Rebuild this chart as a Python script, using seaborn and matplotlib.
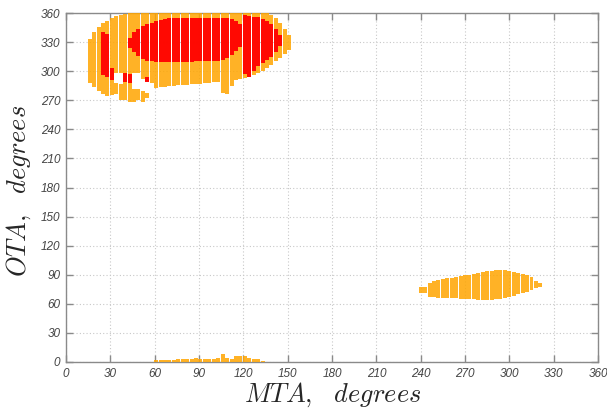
import numpy as np
import matplotlib
matplotlib.use("Agg")
import matplotlib.pyplot as plt
import seaborn as sns

# ---- data (MTA column centre, OTA low / high) ----
ORANGE_X = [16, 19, 22, 25, 28, 31, 34, 34, 37, 37, 40, 43, 46, 46, 49, 49, 52, 52, 55, 55,
            58, 61, 64, 67, 70, 73, 76, 79, 82, 85, 88, 91, 94, 97, 100, 103, 106, 109,
            112, 115, 118, 121, 124, 127, 130, 133, 136, 139, 142, 145, 148, 151]
ORANGE_LO = [288, 284, 280, 276, 274, 275, 298, 276, 298, 270, 270, 268, 298, 268, 298, 270,
             292, 268, 290, 272, 288, 283, 284, 284, 285, 285, 286, 286, 286, 287, 287, 287,
             288, 288, 289, 289, 277, 276, 285, 291, 292, 293, 294, 296, 298, 300, 303, 306,
             310, 314, 318, 322]
ORANGE_HI = [333, 340, 346, 350, 352, 355, 357, 288, 358, 287, 359, 360, 360, 282, 360, 282,
             360, 280, 360, 277, 360, 360, 360, 360, 360, 360, 360, 360, 360, 360, 360, 360,
             360, 360, 360, 360, 360, 360, 360, 360, 360, 360, 360, 360, 360, 360, 360, 358,
             355, 350, 344, 337]

RED_X = [25, 28, 31, 40, 43, 43, 46, 49, 52, 55, 55, 58, 61, 64, 67, 70, 73, 76, 79, 82, 85,
         88, 91, 94, 97, 100, 103, 106, 109, 112, 115, 118, 121, 124, 127, 130, 133, 136,
         139, 142, 145]
RED_LO = [296, 294, 291, 289, 288, 324, 320, 316, 313, 311, 289, 310, 309, 309, 309, 309, 309,
          309, 309, 309, 309, 310, 310, 310, 310, 311, 311, 312, 314, 317, 321, 325, 297, 294,
          300, 305, 308, 312, 315, 320, 326]
RED_HI = [340, 338, 303, 298, 297, 334, 340, 344, 347, 349, 294, 350, 352, 353, 354, 355, 355,
          355, 355, 355, 355, 355, 355, 355, 355, 355, 355, 355, 355, 354, 352, 349, 358, 357,
          356, 356, 354, 352, 349, 344, 337]

RIGHT_X = [240, 243, 246, 249, 252, 255, 258, 261, 264, 267, 270, 273, 276, 279, 282, 285,
           288, 291, 294, 297, 300, 303, 306, 309, 312, 315, 318, 321]
RIGHT_LO = [71, 71, 67, 67, 66, 66, 66, 66, 66, 65, 65, 65, 65, 64, 64, 64, 64, 65, 65, 66,
            67, 68, 70, 71, 72, 74, 76, 77]
RIGHT_HI = [77, 77, 82, 84, 85, 86, 87, 87, 88, 89, 90, 90, 91, 92, 93, 94, 94, 95, 95, 95,
            94, 93, 92, 91, 90, 88, 84, 81]

BOTTOM_X = [61, 64, 67, 70, 73, 76, 79, 82, 85, 88, 91, 94, 97, 100, 103, 106, 109, 112, 115,
            118, 121, 124, 127, 130, 133]
BOTTOM_HI = [2, 2, 2, 2.5, 2.5, 3, 3, 3.5, 3.5, 4, 3.5, 3, 3.5, 3, 4, 8, 4, 3, 6, 6, 6, 4, 3,
             3, 1.5]

TICKS = list(range(0, 361, 30))

sns.set_style("white")
plt.rcParams["mathtext.fontset"] = "cm"

fig = plt.figure(figsize=(6.07, 4.08), dpi=100)
ax = fig.add_axes([66 / 607, 46 / 408, 532 / 607, 349 / 408])

orange = "#ffa500"
red = "#ff0000"
W = 2.7

def cols(x, lo, hi, color, alpha):
    x = np.asarray(x, float)
    lo = np.asarray(lo, float)
    hi = np.asarray(hi, float)
    ax.bar(x, hi - lo, bottom=lo, width=W, color=color, alpha=alpha,
           linewidth=0, zorder=3)

cols(ORANGE_X, ORANGE_LO, ORANGE_HI, orange, 0.85)
cols(RIGHT_X, RIGHT_LO, RIGHT_HI, orange, 0.85)
cols(BOTTOM_X, [0] * len(BOTTOM_X), BOTTOM_HI, orange, 0.85)
cols(RED_X, RED_LO, RED_HI, red, 0.95)

ax.set_xlim(0, 360)
ax.set_ylim(0, 360)
ax.set_xticks(TICKS)
ax.set_yticks(TICKS)
ax.grid(True, color="#c8c8c8", linestyle=(0, (1, 2)), linewidth=0.8, zorder=0)
ax.set_axisbelow(True)

for s in ax.spines.values():
    s.set_visible(True)
    s.set_color("#8a8a8a")
    s.set_linewidth(1.0)

ax.tick_params(direction="in", length=5, width=1, color="#8a8a8a",
               top=True, right=True, bottom=True, left=True,
               labelsize=8.5, labelcolor="#444444", pad=4)
for lab in ax.get_xticklabels() + ax.get_yticklabels():
    lab.set_fontstyle("italic")
    lab.set_family("Liberation Sans")

ax.set_xlabel(r"$MTA,\;\;\,degrees$", fontsize=19)
ax.set_ylabel(r"$OTA,\;\;\,degrees$", fontsize=19)
ax.xaxis.set_label_coords(0.501, -0.054)
ax.yaxis.set_label_coords(-0.062, 0.49)

fig.savefig("out.png", dpi=100)
